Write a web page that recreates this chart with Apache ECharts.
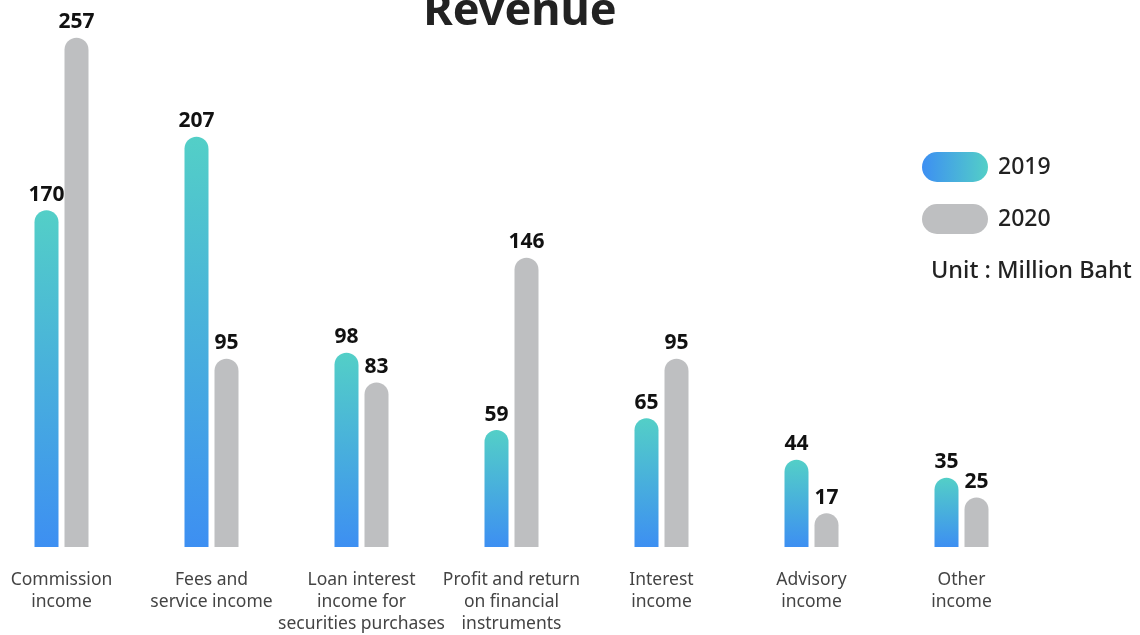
<!DOCTYPE html>
<html>
<head>
<meta charset="utf-8">
<script src="https://cdn.jsdelivr.net/npm/echarts@6/dist/echarts.min.js"></script>
<style>
html,body{margin:0;padding:0;background:#fff;}
#chart{width:1140px;height:635px;}
</style>
</head>
<body>
<div id="chart"></div>
<script>
const categories = [
  "Commission\nincome",
  "Fees and\nservice income",
  "Loan interest\nincome for\nsecurities purchases",
  "Profit and return\non financial\ninstruments",
  "Interest\nincome",
  "Advisory\nincome",
  "Other\nincome"
];
const values2019 = [170, 207, 98, 59, 65, 44, 35];
const values2020 = [257, 95, 83, 146, 95, 17, 25];
const seriesNames = ["2019", "2020"];

const chart = echarts.init(document.getElementById('chart'));
const FONT = "'Noto Sans', sans-serif";
const vGrad = new echarts.graphic.LinearGradient(0, 0, 0, 1, [
  {offset: 0, color: '#53CFC7'},
  {offset: 1, color: '#3D8FF2'}
]);
const hGrad = new echarts.graphic.LinearGradient(0, 0, 1, 0, [
  {offset: 0, color: '#3D8FF2'},
  {offset: 1, color: '#53CFC7'}
]);
const grey = '#BEBFC1';
const capsule = 'path://M15,0 L51,0 A15,15 0 0 1 51,30 L15,30 A15,15 0 0 1 15,0 Z';

const labelStyle = {
  show: true,
  position: 'top',
  distance: 5,
  fontFamily: FONT,
  fontSize: 21,
  fontWeight: 'bold',
  color: '#111'
};

chart.setOption({
  animation: false,
  backgroundColor: '#fff',
  title: {
    text: 'Revenue',
    left: 515,
    textAlign: 'center',
    top: -15,
    textStyle: {fontFamily: FONT, fontSize: 45, fontWeight: 'bold', color: '#222'}
  },
  legend: {
    orient: 'vertical',
    left: 922,
    top: 152,
    itemWidth: 66,
    itemHeight: 30,
    itemGap: 22,
    icon: capsule,
    padding: 0,
    textStyle: {fontFamily: FONT, fontSize: 23, fontWeight: 500, color: '#222', padding: [0, 0, 0, 5]},
    data: [
      {name: seriesNames[0], itemStyle: {color: hGrad}},
      {name: seriesNames[1], itemStyle: {color: grey}}
    ]
  },
  graphic: [{
    type: 'text',
    left: 931,
    top: 259,
    style: {text: 'Unit : Million Baht', fontFamily: FONT, fontSize: 23.5, fontWeight: 500, fill: '#222'}
  }],
  grid: {left: 61.5, width: 900, top: 12, height: 539},
  xAxis: {
    type: 'category',
    data: categories,
    boundaryGap: false,
    axisLine: {show: false},
    axisTick: {show: false},
    axisLabel: {
      interval: 0,
      margin: 22,
      fontFamily: FONT,
      fontSize: 17.5,
      lineHeight: 22,
      color: '#444',
      verticalAlign: 'top'
    }
  },
  yAxis: {
    type: 'value',
    min: 0,
    max: 270,
    show: false,
    splitLine: {show: false}
  },
  series: [
    {
      name: seriesNames[0],
      type: 'bar',
      data: values2019,
      barWidth: 24,
      barGap: '25%',
      itemStyle: {color: vGrad, borderRadius: [12, 12, 0, 0]},
      label: labelStyle
    },
    {
      name: seriesNames[1],
      type: 'bar',
      data: values2020,
      barWidth: 24,
      barGap: '25%',
      itemStyle: {color: grey, borderRadius: [12, 12, 0, 0]},
      label: labelStyle
    }
  ]
});
</script>
</body>
</html>
